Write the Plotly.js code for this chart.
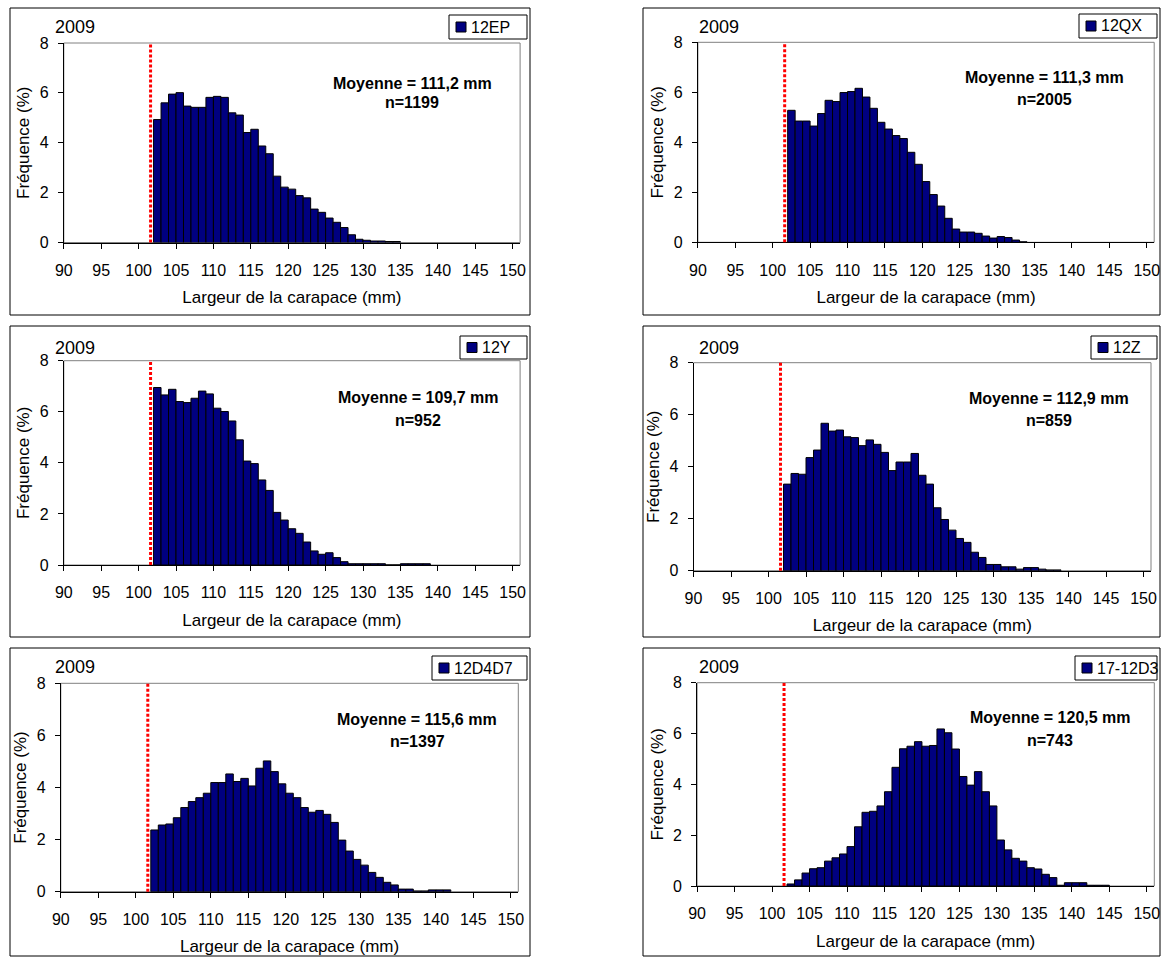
<!DOCTYPE html>
<html>
<head>
<meta charset="utf-8">
<script src="https://cdn.plot.ly/plotly-3.0.1.min.js"></script>
<style>
html,body{margin:0;padding:0;background:#ffffff;}
#chart{width:1170px;height:957px;}
</style>
</head>
<body>
<div id="chart"></div>
<script>
// ---------- DATA ----------
const classes = [102,103,104,105,106,107,108,109,110,111,112,113,114,115,116,117,118,119,120,121,122,123,124,125,126,127,128,129,130,131,132,133,134,135,136,137,138,139,140,141,142,143,144];
const xTickVals = [90,95,100,105,110,115,120,125,130,135,140,145,150];
const xTickText = ['90','95','100','105','110','115','120','125','130','135','140','145','150'];
const yTickVals = [0,2,4,6,8];
const yTickText = ['0','2','4','6','8'];
const yearLabel = '2009';
const xTitle = 'Largeur de la carapace (mm)';
const yTitle = 'Fréquence (%)';
const legalSize = 101.6;

const zoneNames = ['12EP','12QX','12Y','12Z','12D4D7','17-12D3'];
const meanTexts = ['Moyenne = 111,2 mm','Moyenne = 111,3 mm','Moyenne = 109,7 mm','Moyenne = 112,9 mm','Moyenne = 115,6 mm','Moyenne = 120,5 mm'];
const nTexts = ['n=1199','n=2005','n=952','n=859','n=1397','n=743'];

const freq12EP = [4.93,5.60,5.95,6.01,5.47,5.42,5.42,5.82,5.86,5.82,5.20,5.11,4.41,4.54,3.87,3.56,2.66,2.22,2.14,1.88,1.79,1.34,1.21,0.98,0.81,0.60,0.31,0.13,0.09,0.06,0.06,0.04,0.04];
const freq12QX = [5.28,4.85,4.85,4.65,5.15,5.68,5.63,5.99,6.03,6.16,5.81,5.36,4.80,4.53,4.27,4.15,3.60,3.12,2.43,1.91,1.45,0.96,0.53,0.41,0.41,0.36,0.25,0.17,0.23,0.19,0.09,0.02];
const freq12Y = [6.95,6.66,6.88,6.40,6.36,6.53,6.81,6.70,6.14,6.01,5.64,4.90,4.07,3.97,3.33,2.92,2.06,1.76,1.42,1.24,0.90,0.55,0.42,0.48,0.29,0.13,0.05,0.05,0.05,0.05,0.05,0,0,0.05,0.05,0.05,0.05];
const freq12Z = [3.33,3.74,3.71,4.35,4.64,5.67,5.37,5.41,5.15,5.12,4.81,5.03,4.86,4.55,3.85,4.18,4.18,4.51,3.67,3.33,2.42,1.97,1.56,1.24,1.09,0.71,0.51,0.24,0.24,0.15,0.15,0.06,0.12,0.12,0.06,0.03,0.03];
const freq12D4D7 = [2.37,2.56,2.60,2.84,3.23,3.46,3.61,3.78,4.19,4.19,4.52,4.23,4.35,4.06,4.74,5.02,4.61,4.14,3.78,3.61,3.23,3.05,3.12,2.97,2.66,1.98,1.56,1.24,1.02,0.74,0.55,0.36,0.26,0.10,0.10,0.03,0.03,0.07,0.07,0.07];
const freq17_12D3 = [0.08,0.24,0.51,0.68,0.72,0.98,1.11,1.26,1.55,2.33,2.90,2.94,3.15,3.71,4.67,5.40,5.50,5.68,5.50,5.53,6.18,6.03,5.39,4.31,3.97,4.50,3.71,3.15,1.81,1.42,1.09,0.98,0.72,0.67,0.46,0.33,0.03,0.13,0.13,0.13,0.03,0.03,0.03];
const seriesList = [freq12EP, freq12QX, freq12Y, freq12Z, freq12D4D7, freq17_12D3];

// ---------- LAYOUT (pixel geometry) ----------
const W = 1170, H = 957;
const px = v => v / W;
const py = v => 1 - v / H;
const FONT = 'Liberation Sans, Arial, Helvetica, sans-serif';

const geo = [
  {box:[10,530,8,315],    plot:[63.8,520.1,43,242.5],    leg:[449,527,15,39],     tx:412,  my:83,  ny:103, yr:[75,27]},
  {box:[643,1160,8,315],  plot:[697.9,1154.2,42.3,242.3],leg:[1079,1157,14,38],   tx:1044, my:77,  ny:100, yr:[719,27]},
  {box:[10,530,326,637],  plot:[63.8,520.1,360.7,565],   leg:[460,527,336,359],   tx:418,  my:397, ny:420, yr:[75,348]},
  {box:[643,1160,326,637],plot:[693.5,1151,362.7,570.7], leg:[1091,1157,336,359], tx:1049, my:398, ny:420, yr:[719,348]},
  {box:[10,530,648,956],  plot:[60.8,518.3,683.3,891.7], leg:[432,527,656,680],   tx:417,  my:719, ny:741, yr:[75,667]},
  {box:[643,1160,648,956],plot:[697.1,1154.3,682.7,886], leg:[1075,1157,656,680], tx:1050, my:717, ny:740, yr:[719,667]}
];

const traces = [];
const layout = {
  width: W, height: H,
  margin: {l:0, r:0, t:0, b:0, pad:0},
  paper_bgcolor: '#ffffff',
  plot_bgcolor: '#ffffff',
  showlegend: false,
  bargap: 0,
  font: {family: FONT, color: '#000000', size: 16},
  shapes: [],
  annotations: []
};

seriesList.forEach((vals, i) => {
  const k = i + 1;
  const xa = k === 1 ? 'x' : 'x' + k;
  const ya = k === 1 ? 'y' : 'y' + k;
  const g = geo[i];
  traces.push({
    type: 'bar',
    x: classes.slice(0, vals.length),
    y: vals,
    offset: 0,
    width: 1,
    xaxis: xa, yaxis: ya,
    marker: {color: '#000080', line: {color: '#000000', width: 1}},
    hoverinfo: 'x+y',
    name: zoneNames[i]
  });
  layout['xaxis' + (k === 1 ? '' : k)] = {
    domain: [px(g.plot[0]), px(g.plot[1])],
    anchor: ya,
    range: [90, 151],
    tickmode: 'array', tickvals: xTickVals, ticktext: xTickText,
    ticks: 'outside', ticklen: 5, tickwidth: 1, tickcolor: '#000000',
    showline: true, linecolor: '#000000', linewidth: 1,
    showgrid: false, zeroline: false,
    tickfont: {family: FONT, size: 16, color: '#000000'},
    ticklabelstandoff: 8,
    automargin: false, fixedrange: true,
    title: {text: xTitle, font: {family: FONT, size: 17, color: '#000000'}, standoff: 13}
  };
  layout['yaxis' + (k === 1 ? '' : k)] = {
    domain: [py(g.plot[3]), py(g.plot[2])],
    anchor: xa,
    range: [0, 8],
    tickmode: 'array', tickvals: yTickVals, ticktext: yTickText,
    ticks: 'outside', ticklen: 5, tickwidth: 1, tickcolor: '#000000',
    showline: true, linecolor: '#000000', linewidth: 1,
    showgrid: false, zeroline: false,
    tickfont: {family: FONT, size: 16, color: '#000000'},
    ticklabelstandoff: 6,
    automargin: false, fixedrange: true,
    title: {text: yTitle, font: {family: FONT, size: 17, color: '#000000'}, standoff: 5}
  };
  layout.shapes.push({type:'rect', xref:'paper', yref:'paper', x0:px(g.box[0]), x1:px(g.box[1]), y0:py(g.box[3]), y1:py(g.box[2]), line:{color:'#000000', width:1}, fillcolor:'rgba(0,0,0,0)', layer:'below'});
  layout.shapes.push({type:'rect', xref: xa + ' domain', yref: ya + ' domain', x0:0, x1:1, y0:0, y1:1, line:{color:'#808080', width:1}, fillcolor:'rgba(0,0,0,0)', layer:'below'});
  layout.shapes.push({type:'line', xref: xa, yref: ya + ' domain', x0:legalSize, x1:legalSize, y0:0, y1:1, line:{color:'#ff0000', width:3, dash:'3px,2px'}, layer:'above'});
  layout.shapes.push({type:'rect', xref:'paper', yref:'paper', x0:px(g.leg[0]), x1:px(g.leg[1]), y0:py(g.leg[3]), y1:py(g.leg[2]), line:{color:'#000000', width:1}, fillcolor:'#ffffff', layer:'above'});
  const sy = (g.leg[2] + g.leg[3]) / 2;
  layout.shapes.push({type:'rect', xref:'paper', yref:'paper', x0:px(g.leg[0]+7), x1:px(g.leg[0]+17), y0:py(sy+5), y1:py(sy-5), line:{color:'#000000', width:1}, fillcolor:'#000080', layer:'above'});
  layout.annotations.push({xref:'paper', yref:'paper', x:px(g.leg[0]+20), y:py(sy), xanchor:'left', yanchor:'middle', showarrow:false, text:zoneNames[i], font:{family:FONT, size:16, color:'#000000'}});
  layout.annotations.push({xref:'paper', yref:'paper', x:px(g.yr[0]), y:py(g.yr[1]), xanchor:'center', yanchor:'middle', showarrow:false, text:yearLabel, font:{family:FONT, size:18, color:'#000000'}});
  layout.annotations.push({xref:'paper', yref:'paper', x:px(g.tx), y:py(g.my), xanchor:'center', yanchor:'middle', showarrow:false, text:'<b>' + meanTexts[i] + '</b>', font:{family:FONT, size:16, color:'#000000'}});
  layout.annotations.push({xref:'paper', yref:'paper', x:px(g.tx), y:py(g.ny), xanchor:'center', yanchor:'middle', showarrow:false, text:'<b>' + nTexts[i] + '</b>', font:{family:FONT, size:16, color:'#000000'}});
});

Plotly.newPlot('chart', traces, layout, {staticPlot: true, displayModeBar: false});
</script>
</body>
</html>
